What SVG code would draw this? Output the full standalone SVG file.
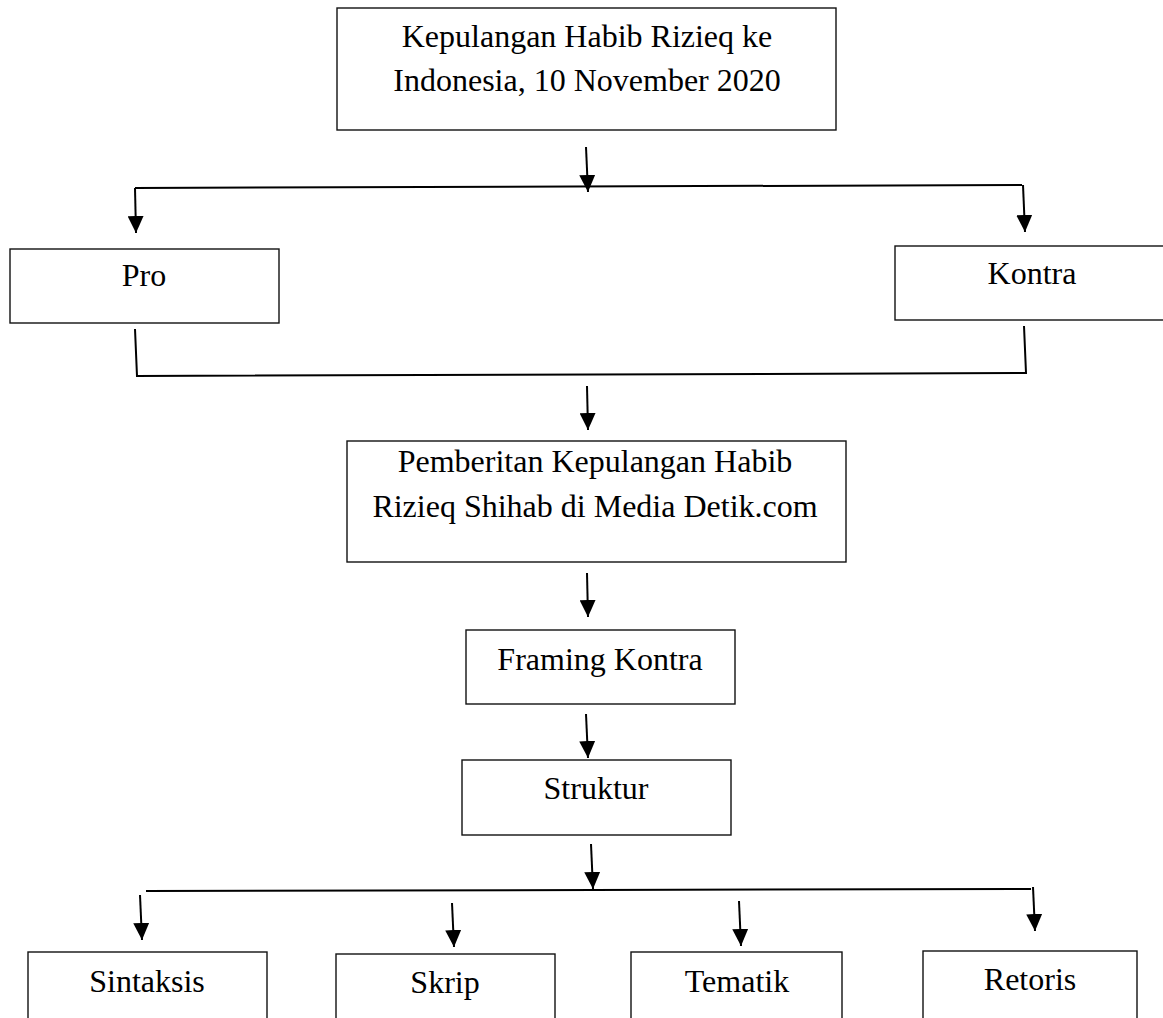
<svg xmlns="http://www.w3.org/2000/svg" width="1163" height="1018" viewBox="0 0 1163 1018">
  <defs>
    <marker id="arrow" markerUnits="userSpaceOnUse" markerWidth="17" markerHeight="16" refX="17" refY="8" orient="auto">
      <path d="M0,0 L17,8 L0,16 Z" fill="#000"/>
    </marker>
    <style>
      .box { fill: #fff; stroke: #111; stroke-width: 1.4; }
      .lbl { font-family: "Liberation Serif", "Times New Roman", serif; font-size: 32px; fill: #000; text-anchor: middle; }
      .conn { fill: none; stroke: #000; stroke-width: 2; }
      .arr { fill: none; stroke: #000; stroke-width: 2; marker-end: url(#arrow); }
    </style>
  </defs>
  <rect width="1163" height="1018" fill="#fff"/>

  <g id="connectors">
    <path class="arr" d="M586,147 L588,192"/>
    <path class="conn" d="M135,188 L1022,185"/>
    <path class="arr" d="M135,188 L136,233"/>
    <path class="arr" d="M1023,185 L1025,232"/>
    <path class="conn" d="M135,329 L137,376 L1026,373 L1024,326"/>
    <path class="arr" d="M587,386 L588,430"/>
    <path class="arr" d="M587,573 L588,617"/>
    <path class="arr" d="M586,714 L588,758"/>
    <path class="arr" d="M591,844 L593,889"/>
    <path class="conn" d="M146,891 L1031,889"/>
    <path class="arr" d="M140,895 L142,940"/>
    <path class="arr" d="M452,903 L454,947"/>
    <path class="arr" d="M739,901 L741,946"/>
    <path class="arr" d="M1033,887 L1035,931"/>
  </g>

  <g id="node-kepulangan">
    <rect class="box" x="337" y="8" width="499" height="122"/>
    <text class="lbl" x="587" y="47">Kepulangan Habib Rizieq ke</text>
    <text class="lbl" x="587" y="91">Indonesia, 10 November 2020</text>
  </g>
  <g id="node-pro">
    <rect class="box" x="10" y="249" width="269" height="74"/>
    <text class="lbl" x="144" y="286">Pro</text>
  </g>
  <g id="node-kontra">
    <rect class="box" x="895" y="246" width="280" height="74"/>
    <text class="lbl" x="1032" y="284">Kontra</text>
  </g>
  <g id="node-pemberitan">
    <rect class="box" x="347" y="441" width="499" height="121"/>
    <text class="lbl" x="595" y="472">Pemberitan Kepulangan Habib</text>
    <text class="lbl" x="595" y="517">Rizieq Shihab di Media Detik.com</text>
  </g>
  <g id="node-framing">
    <rect class="box" x="466" y="630" width="269" height="74"/>
    <text class="lbl" x="600" y="670">Framing Kontra</text>
  </g>
  <g id="node-struktur">
    <rect class="box" x="462" y="760" width="269" height="75"/>
    <text class="lbl" x="596" y="799">Struktur</text>
  </g>
  <g id="node-sintaksis">
    <rect class="box" x="28" y="952" width="239" height="80"/>
    <text class="lbl" x="147" y="992">Sintaksis</text>
  </g>
  <g id="node-skrip">
    <rect class="box" x="336" y="954" width="219" height="80"/>
    <text class="lbl" x="445" y="993">Skrip</text>
  </g>
  <g id="node-tematik">
    <rect class="box" x="631" y="952" width="211" height="80"/>
    <text class="lbl" x="737" y="992">Tematik</text>
  </g>
  <g id="node-retoris">
    <rect class="box" x="923" y="951" width="214" height="80"/>
    <text class="lbl" x="1030" y="990">Retoris</text>
  </g>
</svg>
